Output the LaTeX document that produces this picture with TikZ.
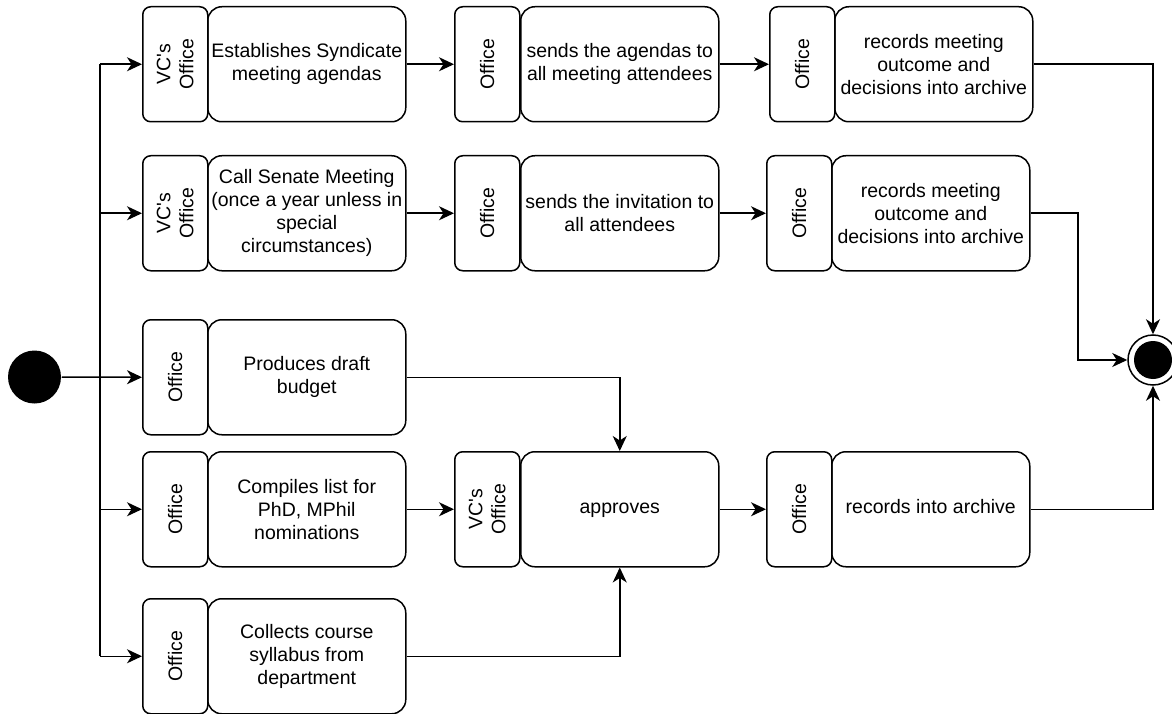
\documentclass[tikz,border=0pt]{standalone}
\usepackage{fontspec}
\setmainfont{Liberation Sans}
\usetikzlibrary{arrows.meta}
\begin{document}
\begin{tikzpicture}[x=1pt,y=-1pt,
  font=\fontsize{19.5}{23}\selectfont,
  line width=1.5pt,
  act/.style={draw, rounded corners=14pt, align=center, inner sep=1pt,
              anchor=north west, minimum width=198pt, minimum height=115pt},
  lane/.style={draw, rounded corners=8pt, inner sep=0pt, anchor=north west,
               minimum width=65pt, minimum height=115pt},
  who/.style={rotate=90, align=center, inner sep=0pt},
  arr/.style={-{Stealth[length=15pt,width=14pt,inset=4.5pt]}},
  startnode/.style={circle, fill=black, minimum size=53pt, inner sep=0pt},
  endnode/.style={circle, draw, fill=white, minimum size=50pt, inner sep=0pt,
                  path picture={\fill[black] (path picture bounding box.center) circle (19pt);}}]
\useasboundingbox (0,0) rectangle (1172,714);

% first column
\node[lane] (l11) at (142,6) {};   \node[who] at (l11.center) {VC\textquotesingle s\\Office};
\node[act]  (m11) at (207,6) {Establishes Syndicate\\meeting agendas};
\node[lane] (l12) at (142,155) {}; \node[who] at (l12.center) {VC\textquotesingle s\\Office};
\node[act]  (m12) at (207,155) {Call Senate Meeting\\(once a year unless in\\special\\circumstances)};
\node[lane] (l13) at (142,319) {}; \node[who] at (l13.center) {Office};
\node[act]  (m13) at (207,319) {Produces draft\\budget};
\node[lane] (l14) at (142,451) {}; \node[who] at (l14.center) {Office};
\node[act]  (m14) at (207,451) {Compiles list for\\PhD, MPhil\\nominations};
\node[lane] (l15) at (142,598) {}; \node[who] at (l15.center) {Office};
\node[act]  (m15) at (207,598) {Collects course\\syllabus from\\department};

% second column
\node[lane] (l21) at (454,6) {};   \node[who] at (l21.center) {Office};
\node[act]  (m21) at (520,6) {sends the agendas to\\all meeting attendees};
\node[lane] (l22) at (454,155) {}; \node[who] at (l22.center) {Office};
\node[act]  (m22) at (520,155) {sends the invitation to\\all attendees};
\node[lane] (l24) at (454,451) {}; \node[who] at (l24.center) {VC\textquotesingle s\\Office};
\node[act]  (ap)  at (520,451) {\strut approves};

% third column
\node[lane] (l31) at (769,6) {};   \node[who] at (l31.center) {Office};
\node[act]  (m31) at (834,6) {records meeting\\outcome and\\decisions into archive};
\node[lane] (l32) at (766,155) {}; \node[who] at (l32.center) {Office};
\node[act]  (m32) at (831,155) {records meeting\\outcome and\\decisions into archive};
\node[lane] (l34) at (766,451) {}; \node[who] at (l34.center) {Office};
\node[act]  (m34) at (831,451) {\strut records into archive};

% initial and final states
\node[startnode] (start) at (34.5,377) {};
\node[endnode] (end) at (1153,360) {};

% fork from the initial state
\coordinate (fx) at (100,0);
\draw[arr] (start.east) -- (l13.west);
\draw (fx |- l11.west) -- (fx |- l15.west);
\draw[arr] (fx |- l11.west) -- (l11.west);
\draw[arr] (fx |- l12.west) -- (l12.west);
\draw[arr] (fx |- l14.west) -- (l14.west);
\draw[arr] (fx |- l15.west) -- (l15.west);

% flows between activities
\draw[arr] (m11.east) -- (l21.west);
\draw[arr] (m21.east) -- (l31.west);
\draw[arr] (m12.east) -- (l22.west);
\draw[arr] (m22.east) -- (l32.west);
\draw[arr] (m14.east) -- (l24.west);
\draw[arr] (ap.east)  -- (l34.west);
\draw[arr] (m13.east) -| (ap.north);
\draw[arr] (m15.east) -| (ap.south);

% joins into the final state
\coordinate (jx) at (1078,0);
\draw[arr] (m31.east) -| (end.north);
\draw[arr] (m32.east) -- (jx |- m32.east) |- (end.west);
\draw[arr] (m34.east) -| (end.south);
\end{tikzpicture}
\end{document}
